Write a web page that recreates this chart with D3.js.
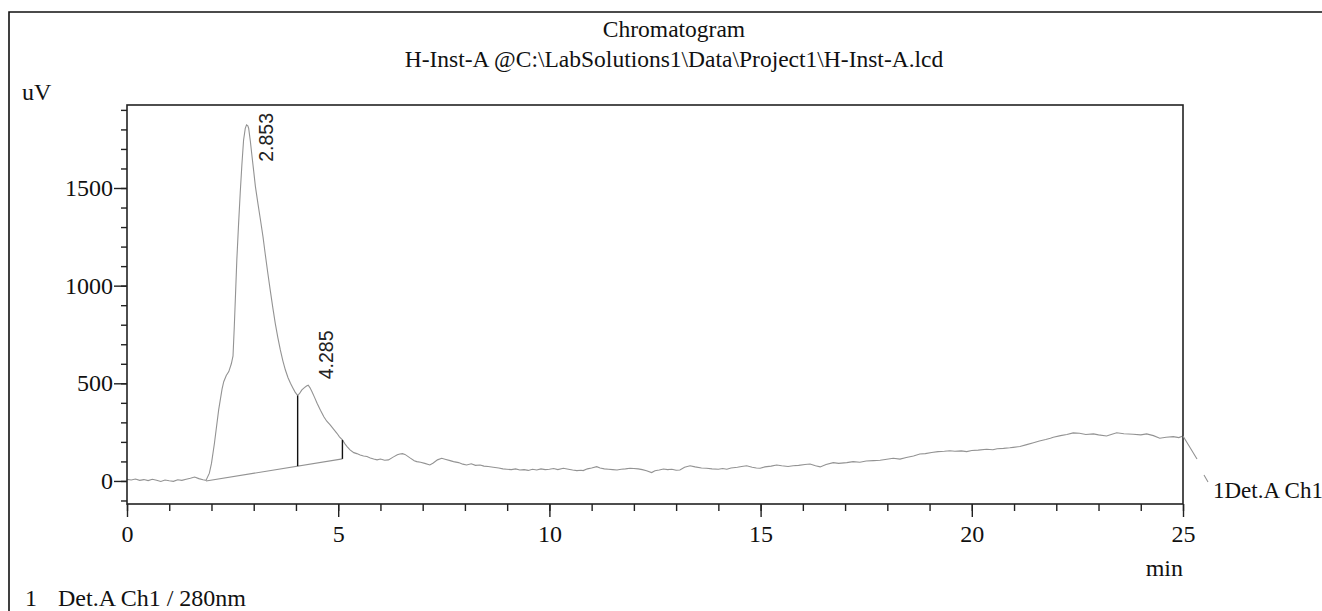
<!DOCTYPE html>
<html><head><meta charset="utf-8">
<script src="https://cdn.jsdelivr.net/npm/d3@7"></script>
<style>
html,body{margin:0;padding:0;background:#fff;}
svg{display:block;}
</style></head>
<body>
<svg id="c" width="1322" height="611"></svg>
<script>
// ---- data ----
const titleLines = ["Chromatogram", "H-Inst-A @C:\\LabSolutions1\\Data\\Project1\\H-Inst-A.lcd"];
const xMajorTicks = [0, 5, 10, 15, 20, 25];
const yMajorTicks = [0, 500, 1000, 1500];
const times = [0.0,0.1,0.2,0.3,0.4,0.5,0.6,0.7,0.8,0.9,1.0,1.1,1.2,1.3,1.4,1.5,1.6,1.7,1.8,1.87,
 1.95,2.0,2.07,2.17,2.25,2.29,2.35,2.41,2.47,2.51,2.54,2.57,2.60,2.64,2.68,2.72,2.76,2.80,2.83,2.86,2.88,2.92,2.96,3.00,
 3.04,3.10,3.16,3.22,3.27,3.33,3.39,3.45,3.51,3.57,3.63,3.69,3.75,3.81,3.87,3.93,3.98,4.04,4.09,4.14,4.20,4.25,4.29,4.33,
 4.38,4.44,4.50,4.58,4.66,4.73,4.81,4.89,4.97,5.03,5.10,5.16,5.21,5.28,5.37,5.44,5.52,5.60,5.68,5.76,5.84,5.92,6.0,6.1,
 6.19,6.3,6.4,6.46,6.52,6.58,6.7,6.8,6.86,6.95,7.05,7.17,7.25,7.35,7.45,7.55,7.65,7.73,7.85,7.95,8.04,8.15,8.25,8.36,
 8.45,8.55,8.67,8.8,8.9,8.99,9.1,9.2,9.3,9.4,9.5,9.6,9.7,9.8,9.9,10.0,10.1,10.2,10.33,10.45,10.55,10.65,10.75,10.8,
 10.9,11.0,11.12,11.2,11.3,11.4,11.5,11.6,11.7,11.8,11.91,12.0,12.1,12.2,12.3,12.42,12.5,12.6,12.7,12.8,12.9,13.0,13.09,
 13.2,13.33,13.45,13.6,13.72,13.85,14.0,14.1,14.2,14.3,14.45,14.55,14.67,14.8,14.9,14.99,15.1,15.25,15.38,15.5,15.65,
 15.77,15.9,16.05,16.17,16.3,16.41,16.55,16.72,16.85,17.04,17.19,17.35,17.5,17.67,17.83,17.95,18.14,18.3,18.45,18.62,
 18.77,18.9,19.05,19.2,19.35,19.48,19.6,19.75,19.88,20.0,20.15,20.35,20.5,20.6,20.75,20.9,20.98,21.14,21.3,21.46,21.6,
 21.75,21.86,21.93,22.1,22.25,22.40,22.55,22.7,22.88,23.0,23.19,23.3,23.43,23.6,23.82,24.0,24.14,24.3,24.45,24.6,24.77,
 24.9,25.0];
const uv = [8,5,10,3,7,2,9,4,-3,5,1,-2,6,3,9,14,20,12,6,3,
 40,90,193,364,470,508,540,560,600,640,790,960,1132,1310,1473,1620,1746,1805,1823,1818,1806,1740,1661,1585,
 1507,1420,1336,1250,1166,1070,978,890,807,735,671,615,568,530,500,475,455,437,450,466,478,486,490,478,
 457,428,398,362,329,306,287,265,244,226,210,190,176,159,145,140,133,128,125,118,112,108,112,106,
 108,122,134,138,140,136,118,104,99,96,90,82,92,108,116,110,104,99,94,86,82,88,80,82,
 76,74,70,66,62,60,58,62,56,58,54,60,56,62,58,60,64,58,65,60,56,53,55,53,
 62,66,73,66,62,60,58,56,60,62,65,64,62,58,52,43,52,56,61,58,60,55,56,
 70,78,72,66,65,62,60,64,60,66,70,74,78,70,66,65,72,76,82,78,74,
 78,80,84,87,78,72,84,94,90,94,99,96,102,104,106,110,116,112,120,128,
 138,140,146,150,152,155,152,154,150,156,158,162,160,165,167,170,172,176,186,196,205,
 212,219,224,232,238,246,244,238,241,236,230,238,247,242,239,236,241,232,219,224,227,
 222,230];
const peakTimes = [2.853, 4.285];
const peakHeights = [1823, 490];
const peakLabels = ["2.853", "4.285"];
const baselineStart = [1.87, 0];
const baselineEnd = [5.10, 113];
const dropTimes = [4.04, 5.10];
const dropTops = [437, 210];
const channelLabel = "1Det.A Ch1";
const legendText = ["1", "Det.A Ch1 / 280nm"];

// ---- layout ----
const L = 127, T = 105, R = 1183, B = 504;
const svg = d3.select("#c");
const serif = "'Liberation Serif','Times New Roman',serif";
const sans = "'Liberation Sans',Arial,sans-serif";

const x = d3.scaleLinear().domain([0, 25]).range([L, R]);
const y = d3.scaleLinear().domain([-118, 1925]).range([B, T]);

// outer frame (top & left edges visible)
svg.append("path").attr("d", `M9,611 V12 H1322`).attr("fill", "none").attr("stroke", "#111").attr("stroke-width", 1.6);

// title
svg.append("g").selectAll("text").data(titleLines).join("text")
  .attr("x", 674).attr("y", (d, i) => 37 + i * 30)
  .attr("text-anchor", "middle").attr("font-family", serif).attr("font-size", 23.5).attr("fill", "#111")
  .text(d => d);

svg.append("text").attr("x", 22).attr("y", 100).attr("font-family", serif).attr("font-size", 24).attr("fill", "#111").text("uV");

// axes
const gy = svg.append("g").attr("transform", `translate(${L},0)`);
gy.call(d3.axisLeft(y).tickValues(d3.range(-100, 2000, 100)).tickSize(6).tickFormat(""));
const gy2 = svg.append("g").attr("transform", `translate(${L},0)`);
gy2.call(d3.axisLeft(y).tickValues(yMajorTicks).tickSize(13).tickPadding(1).tickFormat(d3.format("d")));
const gx = svg.append("g").attr("transform", `translate(0,${B})`);
gx.call(d3.axisBottom(x).tickValues(d3.range(0, 26, 1)).tickSize(7).tickFormat(""));
const gx2 = svg.append("g").attr("transform", `translate(0,${B})`);
gx2.call(d3.axisBottom(x).tickValues(xMajorTicks).tickSize(13).tickPadding(8).tickFormat(d3.format("d")));
[gy, gy2, gx, gx2].forEach(g => {
  g.select(".domain").remove();
  g.selectAll("line").attr("stroke", "#222").attr("stroke-width", 1.4);
  g.selectAll("text").attr("font-family", serif).attr("font-size", 24).attr("fill", "#111");
});

svg.append("text").attr("x", R).attr("y", 576).attr("text-anchor", "end")
  .attr("font-family", serif).attr("font-size", 24).attr("fill", "#111").text("min");

// data trace
const pts = times.map((t, i) => [t, uv[i]]);
svg.append("path").datum(pts)
  .attr("d", d3.line().x(d => x(d[0])).y(d => y(d[1])))
  .attr("fill", "none").attr("stroke", "#939393").attr("stroke-width", 1.1);

// integration baseline
svg.append("line")
  .attr("x1", x(baselineStart[0])).attr("y1", y(baselineStart[1]))
  .attr("x2", x(baselineEnd[0])).attr("y2", y(baselineEnd[1]))
  .attr("stroke", "#939393").attr("stroke-width", 1.1);
const baseAt = t => baselineStart[1] + (baselineEnd[1] - baselineStart[1]) * (t - baselineStart[0]) / (baselineEnd[0] - baselineStart[0]);
svg.append("g").selectAll("line").data(dropTimes).join("line")
  .attr("x1", d => x(d)).attr("x2", d => x(d))
  .attr("y1", (d, i) => y(baseAt(d))).attr("y2", (d, i) => y(dropTops[i]))
  .attr("stroke", "#111").attr("stroke-width", 1.4);

// peak labels (rotated)
const pl = svg.append("g").selectAll("text").data(peakLabels).join("text")
  .attr("font-family", sans).attr("font-size", 19.5).attr("fill", "#222")
  .text(d => d);
pl.each(function (d, i) {
  const len = this.getComputedTextLength();
  const px = x(peakTimes[i]) + 25;
  const py = Math.max(y(peakHeights[i]) - 6, T + 8 + len);
  d3.select(this).attr("transform", `translate(${px},${py}) rotate(-90)`);
});

// plot frame
svg.append("rect").attr("x", L).attr("y", T).attr("width", R - L).attr("height", B - T)
  .attr("fill", "none").attr("stroke", "#222").attr("stroke-width", 1.6);

// channel leader + label
const ex = x(times[times.length - 1]), ey = y(uv[uv.length - 1]);
svg.append("path").attr("d", `M${ex},${ey} L${ex + 14},${ey + 23} M${ex + 21},${ey + 39} L${ex + 25},${ey + 46}`)
  .attr("fill", "none").attr("stroke", "#939393").attr("stroke-width", 1.1);
svg.append("text").attr("x", ex + 30).attr("y", 498)
  .attr("font-family", serif).attr("font-size", 23).attr("fill", "#111").text(channelLabel);

// legend
svg.append("text").attr("x", 25).attr("y", 606).attr("font-family", serif).attr("font-size", 24).attr("fill", "#111").text(legendText[0]);
svg.append("text").attr("x", 58).attr("y", 606).attr("font-family", serif).attr("font-size", 24).attr("fill", "#111").text(legendText[1]);
</script>
</body></html>
